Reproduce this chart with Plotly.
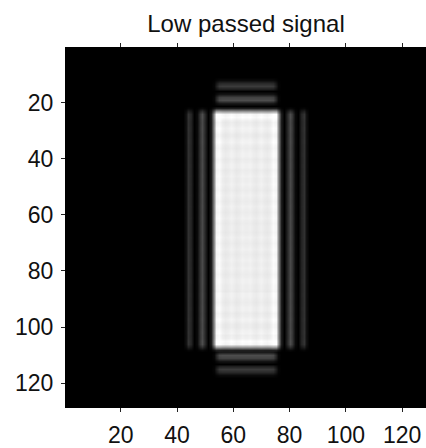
import numpy as np
import plotly.graph_objects as go

# Image size (pixels of the 2-D signal)
n_rows = 128
n_cols = 128

# Main row profile of the bright block (rows 21..108)
row_start = 21
row_profile = [
    0.00, 0.12, 0.60, 1.00, 1.02, 0.97, 0.95, 0.96, 0.98, 0.97,   # 21-30
    0.95, 0.95, 0.97, 0.98, 0.96, 0.95, 0.96, 0.97, 0.97, 0.95,   # 31-40
    0.96, 0.97, 0.97, 0.95, 0.96, 0.97, 0.96, 0.96, 0.97, 0.96,   # 41-50
    0.95, 0.96, 0.97, 0.96, 0.95, 0.96, 0.97, 0.96, 0.95, 0.96,   # 51-60
    0.97, 0.96, 0.95, 0.96, 0.96, 0.95, 0.96, 0.97, 0.96, 0.95,   # 61-70
    0.96, 0.97, 0.96, 0.95, 0.96, 0.97, 0.96, 0.96, 0.97, 0.96,   # 71-80
    0.95, 0.96, 0.97, 0.97, 0.96, 0.96, 0.95, 0.97, 0.97, 0.96,   # 81-90
    0.95, 0.96, 0.97, 0.97, 0.95, 0.96, 0.98, 0.97, 0.95, 0.95,   # 91-100
    0.97, 0.98, 0.96, 0.97, 1.02, 1.00, 0.60, 0.12,               # 101-108
]

# Horizontal ringing lines above / below the block (rows 11..118)
ring_row_start = 11
ring_row_profile = [
    0.00, 0.04, 0.16, 0.23, 0.12, 0.00, 0.08, 0.26, 0.30, 0.10,   # 11-20
    0.00, 0.00, 0.00, 0.00, 0.00, 0.00, 0.00, 0.00, 0.00, 0.00,   # 21-30
    0.00, 0.00, 0.00, 0.00, 0.00, 0.00, 0.00, 0.00, 0.00, 0.00,   # 31-40
    0.00, 0.00, 0.00, 0.00, 0.00, 0.00, 0.00, 0.00, 0.00, 0.00,   # 41-50
    0.00, 0.00, 0.00, 0.00, 0.00, 0.00, 0.00, 0.00, 0.00, 0.00,   # 51-60
    0.00, 0.00, 0.00, 0.00, 0.00, 0.00, 0.00, 0.00, 0.00, 0.00,   # 61-70
    0.00, 0.00, 0.00, 0.00, 0.00, 0.00, 0.00, 0.00, 0.00, 0.00,   # 71-80
    0.00, 0.00, 0.00, 0.00, 0.00, 0.00, 0.00, 0.00, 0.00, 0.00,   # 81-90
    0.00, 0.00, 0.00, 0.00, 0.00, 0.00, 0.00, 0.00, 0.00, 0.00,   # 91-100
    0.00, 0.00, 0.00, 0.00, 0.00, 0.00, 0.00, 0.00, 0.10, 0.30,   # 101-110
    0.26, 0.08, 0.00, 0.12, 0.23, 0.16, 0.04, 0.00,               # 111-118
]

# Column profile of the block incl. vertical ringing lines (cols 42..87)
col_start = 42
col_profile = [
    0.00, 0.07, 0.20, 0.14, 0.00, 0.04, 0.22, 0.30, 0.15, 0.00,   # 42-51
    0.12, 0.60, 1.00, 1.02, 0.97, 0.95, 0.96, 0.98, 0.97, 0.95,   # 52-61
    0.96, 0.98, 0.97, 0.97, 0.98, 0.96, 0.95, 0.97, 0.98, 0.96,   # 62-71
    0.95, 0.97, 1.02, 1.00, 0.60, 0.12, 0.00, 0.15, 0.30, 0.22,   # 72-81
    0.04, 0.00, 0.14, 0.20, 0.07, 0.00,                           # 82-87
]

# Horizontal extent of the ringing lines (cols 53..76)
ring_col_start = 53
ring_col_profile = [
    0.10, 0.50, 0.95, 1.00, 1.00, 1.00, 1.00, 1.00, 1.00, 1.00,   # 53-62
    1.00, 1.00, 1.00, 1.00, 1.00, 1.00, 1.00, 1.00, 1.00, 1.00,   # 63-72
    1.00, 0.95, 0.50, 0.10,                                       # 73-76
]

tick_vals = [20, 40, 60, 80, 100, 120]
title_text = "Low passed signal"


def full(profile, start, n):
    arr = np.zeros(n)
    arr[start - 1: start - 1 + len(profile)] = profile
    return arr


rows = full(row_profile, row_start, n_rows)
ring_rows = full(ring_row_profile, ring_row_start, n_rows)
cols = full(col_profile, col_start, n_cols)
ring_cols = full(ring_col_profile, ring_col_start, n_cols)

z = np.clip(np.outer(rows, cols) + np.outer(ring_rows, ring_cols), 0, 1)

x = np.arange(1, n_cols + 1)
y = np.arange(1, n_rows + 1)

fig = go.Figure(go.Heatmap(
    z=z, x=x, y=y,
    colorscale=[[0, "black"], [1, "white"]],
    zmin=0, zmax=1, showscale=False, zsmooth="best",
    hoverinfo="skip",
))

font_family = "Liberation Sans, Arial, sans-serif"
axis_common = dict(
    tickvals=tick_vals,
    ticks="outside", ticklen=4, tickwidth=1, tickcolor="#222222",
    showline=True, linecolor="black", linewidth=1, mirror="ticks",
    showgrid=False, zeroline=False, automargin=False,
    tickfont=dict(family=font_family, size=23, color="#111111"),
)

fig.update_layout(
    width=426, height=448,
    margin=dict(l=66, r=0, t=48, b=41),
    paper_bgcolor="white", plot_bgcolor="black",
    title=dict(text=title_text, x=0.5, xref="paper", y=0.948, yref="container",
               xanchor="center", yanchor="middle",
               font=dict(family=font_family, size=24, color="#111111")),
    xaxis=dict(range=[0.5, 128.5], ticklabelstandoff=3, **axis_common),
    yaxis=dict(range=[128.5, 0.5], ticklabelstandoff=3, **axis_common),
)

fig.write_html("out.html")
